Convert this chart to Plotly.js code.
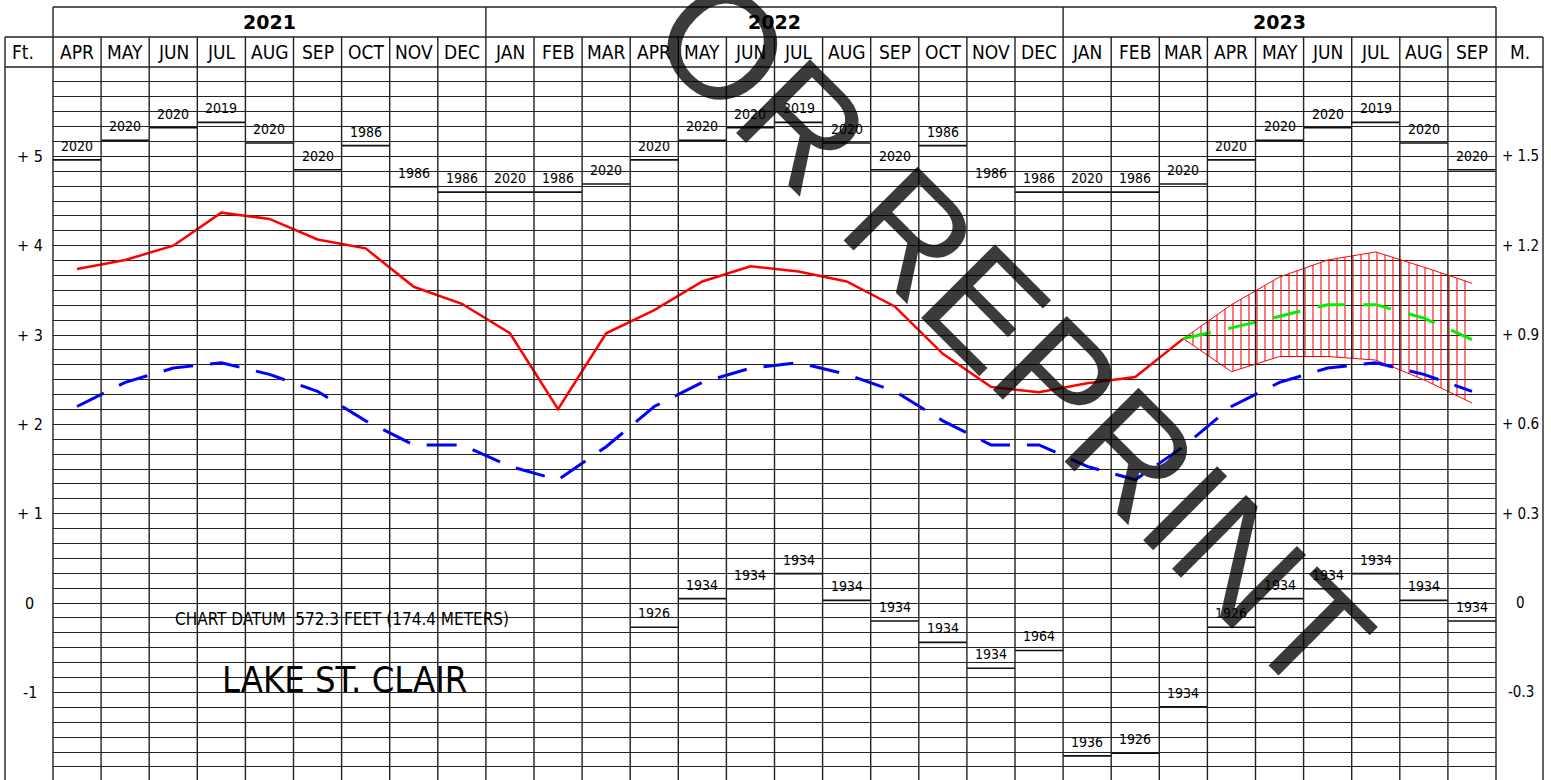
<!DOCTYPE html>
<html><head><meta charset="utf-8">
<script src="https://cdn.plot.ly/plotly-3.0.1.min.js"></script>
<style>html,body{margin:0;padding:0;background:#fff;} #chart{width:1551px;height:780px;}</style>
</head><body><div id="chart"></div>
<script>
// ---- data ----
const months = ['APR','MAY','JUN','JUL','AUG','SEP','OCT','NOV','DEC',
                'JAN','FEB','MAR','APR','MAY','JUN','JUL','AUG','SEP','OCT','NOV','DEC',
                'JAN','FEB','MAR','APR','MAY','JUN','JUL','AUG','SEP'];
const years = ['2021','2022','2023'];
const monthsPerYear = [9, 12, 9];
// recorded monthly mean levels, ft above chart datum (APR 2021 .. MAR 2023)
const recorded = [3.74,3.84,4.00,4.37,4.30,4.07,3.97,3.54,3.35,
                  3.02,2.17,3.02,3.28,3.60,3.77,3.71,3.60,3.32,2.79,2.42,2.36,
                  2.46,2.53,2.96];
// calendar-month statistics (JAN .. DEC)
const calMonths = ['JAN','FEB','MAR','APR','MAY','JUN','JUL','AUG','SEP','OCT','NOV','DEC'];
const ltAverage = [1.53,1.38,1.75,2.20,2.47,2.63,2.69,2.56,2.37,2.04,1.77,1.77];
const recHigh = [4.60,4.60,4.69,4.96,5.18,5.32,5.38,5.15,4.85,5.12,4.66,4.60];
const recHighYear = ['2020','1986','2020','2020','2020','2020','2019','2020','2020','1986','1986','1986'];
const recLow = [-1.71,-1.68,-1.16,-0.27,0.05,0.16,0.33,0.03,-0.20,-0.44,-0.73,-0.53];
const recLowYear = ['1936','1926','1934','1926','1934','1934','1934','1934','1934','1934','1934','1964'];
const recLowFirstMonth = 'APR 2022';
// forecast MAR .. SEP 2023
const fcProbable = [2.96,3.08,3.21,3.34,3.34,3.19,2.95];
const fcHigh     = [2.96,3.34,3.65,3.84,3.93,3.76,3.58];
const fcLow      = [2.96,2.59,2.76,2.76,2.72,2.50,2.24];
// axis labels
const ftTicks  = [5,4,3,2,1,0,-1];
const ftLabels = ['+ 5','+ 4','+ 3','+ 2','+ 1','0','-1'];
const mLabels  = ['+ 1.5','+ 1.2','+ 0.9','+ 0.6','+ 0.3','0','-0.3'];

// ---- helpers ----
const NARROW = '"Liberation Sans Narrow", "Arial Narrow", "DejaVu Sans Condensed", sans-serif';
const W = 1551, H = 780, ML = 53, MR = 55, MT = 67, MB = 0;
const PW = W - ML - MR, PH = H - MT - MB;
const px2xp = p => (p - ML) / PW;          // page px -> paper x
const px2yp = p => (H - MB - p) / PH;      // page px -> paper y
const startYear = Number(years[0]);
const calOf = i => (3 + i) % 12;           // index 0 = APR
const idx = months.map((m, i) => i);
const lowStart = (Number(recLowFirstMonth.split(' ')[1]) - startYear) * 12 +
                 calMonths.indexOf(recLowFirstMonth.split(' ')[0]) - 3;
const fcStart = recorded.length - 1;
const fcX = fcProbable.map((v, k) => fcStart + k);

function segs(indices, valFn) {
  const x = [], y = [];
  indices.forEach(i => { const v = valFn(i); x.push(i - 0.5, i + 0.5, null); y.push(v, v, null); });
  return {x, y};
}

const traces = [];
// forecast band
traces.push({x: fcX, y: fcLow, mode: 'lines', line: {color: '#ff0000', width: 1}, hoverinfo: 'skip'});
traces.push({x: fcX, y: fcHigh, mode: 'lines', line: {color: '#ff0000', width: 1}, fill: 'tonexty',
  fillcolor: 'rgba(0,0,0,0)',
  fillpattern: {shape: '|', size: 8, solidity: 0.13, fgcolor: '#ff0000', bgcolor: 'rgba(255,255,255,0)'},
  hoverinfo: 'skip'});
// long term average
traces.push({x: idx, y: idx.map(i => ltAverage[calOf(i)]), mode: 'lines',
  line: {color: '#0000ff', width: 3, dash: '30px,17px'}, hoverinfo: 'skip'});
// recorded
traces.push({x: recorded.map((v, i) => i), y: recorded, mode: 'lines',
  line: {color: '#ff0000', width: 2.5}, hoverinfo: 'skip'});
// most probable forecast
traces.push({x: fcX, y: fcProbable, mode: 'lines',
  line: {color: '#00ee00', width: 3, dash: '28px,18px'}, hoverinfo: 'skip'});
// record highs / lows (lines)
const hs = segs(idx, i => recHigh[calOf(i)]);
traces.push({x: hs.x, y: hs.y, mode: 'lines', line: {color: '#111', width: 1.6}, hoverinfo: 'skip'});
const lowIdx = idx.filter(i => i >= lowStart);
const ls = segs(lowIdx, i => recLow[calOf(i)]);
traces.push({x: ls.x, y: ls.y, mode: 'lines', line: {color: '#111', width: 1.6}, hoverinfo: 'skip'});

// ---- frame shapes ----
const LINE = {color: '#222', width: 1.4};
const yRow1 = 1 + 30 / PH, yRow0 = 1 + 60 / PH;
const xLeft = px2xp(5), xRight = px2xp(1543);
const shapes = [];
idx.slice(0, -1).forEach(i => {
  shapes.push({type: 'line', xref: 'x', yref: 'paper', x0: i + 0.5, x1: i + 0.5, y0: 0, y1: yRow1, line: LINE, layer: 'above'});
});
let acc = 0;
monthsPerYear.slice(0, -1).forEach(n => { acc += n;
  shapes.push({type: 'line', xref: 'x', yref: 'paper', x0: acc - 0.5, x1: acc - 0.5, y0: yRow1, y1: yRow0, line: LINE});
});
shapes.push({type: 'line', xref: 'paper', yref: 'paper', x0: 0, x1: 0, y0: 0, y1: yRow0, line: LINE});
shapes.push({type: 'line', xref: 'paper', yref: 'paper', x0: 1, x1: 1, y0: 0, y1: yRow0, line: LINE});
shapes.push({type: 'line', xref: 'paper', yref: 'paper', x0: 0, x1: 1, y0: yRow0, y1: yRow0, line: LINE});
shapes.push({type: 'line', xref: 'paper', yref: 'paper', x0: xLeft, x1: xRight, y0: yRow1, y1: yRow1, line: LINE});
shapes.push({type: 'line', xref: 'paper', yref: 'paper', x0: xLeft, x1: xRight, y0: 1, y1: 1, line: LINE});
shapes.push({type: 'line', xref: 'paper', yref: 'paper', x0: xLeft, x1: xLeft, y0: 0, y1: yRow1, line: LINE});
shapes.push({type: 'line', xref: 'paper', yref: 'paper', x0: xRight, x1: xRight, y0: 0, y1: yRow1, line: LINE});

// ---- annotations ----
const ann = [];
// record year labels
const recFont = {family: NARROW, size: 14, color: '#000'};
idx.forEach(i => ann.push({xref: 'x', yref: 'y', x: i, y: recHigh[calOf(i)], text: recHighYear[calOf(i)],
  showarrow: false, xanchor: 'center', yanchor: 'bottom', yshift: 4, font: recFont}));
lowIdx.forEach(i => ann.push({xref: 'x', yref: 'y', x: i, y: recLow[calOf(i)], text: recLowYear[calOf(i)],
  showarrow: false, xanchor: 'center', yanchor: 'bottom', yshift: 4, font: recFont}));
months.forEach((m, i) => ann.push({xref: 'x', yref: 'paper', x: i, y: 1 + 15 / PH, text: m, showarrow: false,
  xanchor: 'center', yanchor: 'middle', font: {family: NARROW, size: 19, color: '#000'}}));
acc = 0;
years.forEach((yr, k) => { const c = acc + (monthsPerYear[k] - 1) / 2; acc += monthsPerYear[k];
  ann.push({xref: 'x', yref: 'paper', x: c, y: 1 + 45 / PH, text: yr, showarrow: false,
    xanchor: 'center', yanchor: 'middle', font: {family: '"DejaVu Sans", sans-serif', size: 19, weight: 'bold', color: '#000'}});
});
ann.push({xref: 'paper', yref: 'paper', x: px2xp(22.5), y: 1 + 15 / PH, text: 'Ft.', showarrow: false,
  xanchor: 'center', yanchor: 'middle', font: {family: NARROW, size: 19, color: '#000'}});
ann.push({xref: 'paper', yref: 'paper', x: px2xp(1520), y: 1 + 15 / PH, text: 'M.', showarrow: false,
  xanchor: 'center', yanchor: 'middle', font: {family: NARROW, size: 19, color: '#000'}});
ftTicks.forEach((t, k) => {
  ann.push({xref: 'paper', yref: 'y', x: px2xp(29.5), y: t, text: ftLabels[k], showarrow: false,
    xanchor: 'center', yanchor: 'middle', font: {family: NARROW, size: 16, color: '#000'}});
  ann.push({xref: 'paper', yref: 'y', x: px2xp(1520.5), y: t, text: mLabels[k], showarrow: false,
    xanchor: 'center', yanchor: 'middle', font: {family: NARROW, size: 15, color: '#000'}});
});
ann.push({xref: 'x', yref: 'y', x: 2.0, y: -0.18, text: 'CHART DATUM  572.3 FEET (174.4 METERS)', showarrow: false,
  xanchor: 'left', yanchor: 'middle', font: {family: NARROW, size: 17, color: '#000'}});
ann.push({xref: 'x', yref: 'y', x: 2.97, y: -0.85, text: 'LAKE ST. CLAIR', showarrow: false,
  xanchor: 'left', yanchor: 'middle', font: {family: NARROW, size: 36, color: '#000'}});
// watermark
ann.push({xref: 'paper', yref: 'paper', x: px2xp(1012), y: px2yp(334), text: 'OR REPRINT', showarrow: false,
  textangle: 45, xanchor: 'center', yanchor: 'middle',
  font: {family: '"Liberation Sans", Arial, sans-serif', size: 152, color: 'rgba(0,0,0,0.77)'}});

const layout = {
  width: W, height: H, margin: {l: ML, r: MR, t: MT, b: MB, pad: 0},
  paper_bgcolor: '#fff', plot_bgcolor: '#fff', showlegend: false, hovermode: false,
  xaxis: {range: [-0.5, 29.5], showgrid: false, zeroline: false, showticklabels: false, ticks: '', fixedrange: true},
  yaxis: {range: [-1.98, 6], tickmode: 'array', tickvals: ftTicks, showticklabels: false, ticks: '',
    showgrid: true, gridcolor: '#222', gridwidth: 1, zeroline: false, fixedrange: true,
    minor: {tickmode: 'linear', tick0: 0, dtick: 1 / 6, showgrid: true, gridcolor: '#222', gridwidth: 1, ticks: ''}},
  shapes: shapes, annotations: ann
};
Plotly.newPlot('chart', traces, layout, {displayModeBar: false, staticPlot: true});
</script></body></html>
